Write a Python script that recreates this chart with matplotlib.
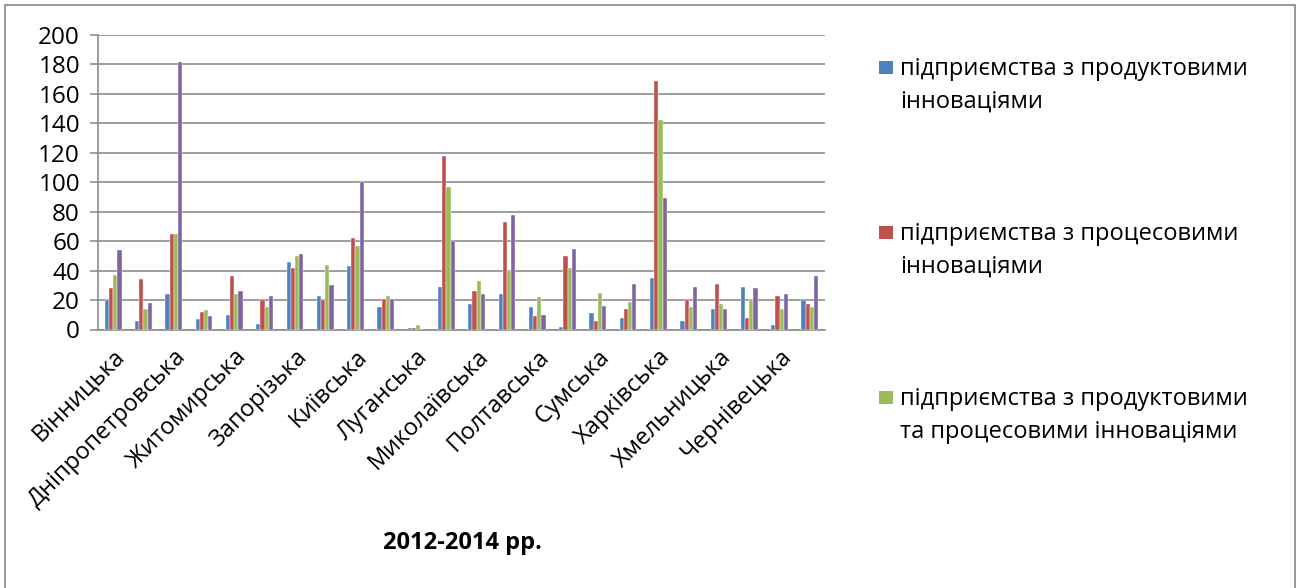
# Інноваційні підприємства за регіонами, 2012-2014 рр.

import numpy as np
import matplotlib
matplotlib.use('Agg')
import matplotlib.pyplot as plt
from matplotlib.patches import Rectangle

plt.rcParams['font.family'] = ['Open Sans', 'DejaVu Sans']

# Дані
regions = ['Вінницька', 'Волинська', 'Дніпропетровська', 'Донецька', 'Житомирська',
           'Закарпатська', 'Запорізька', 'Івано-Франківська', 'Київська', 'Кіровоградська',
           'Луганська', 'Львівська', 'Миколаївська', 'Одеська', 'Полтавська', 'Рівненська',
           'Сумська', 'Тернопільська', 'Харківська', 'Херсонська', 'Хмельницька',
           'Черкаська', 'Чернівецька', 'Чернігівська']
product = [20, 6, 24, 7, 10, 4, 46, 23, 43, 15, 1, 29, 17, 24, 15, 2, 11, 8, 35, 6, 14, 29, 3, 20]
process = [28, 34, 65, 12, 36, 20, 42, 20, 62, 21, 1, 118, 26, 73, 9, 50, 6, 14, 169, 20, 31, 8, 23, 17]
both = [37, 14, 65, 13, 24, 15, 50, 44, 57, 23, 3, 97, 33, 40, 22, 42, 25, 19, 142, 15, 17, 20, 14, 15]
other = [54, 18, 182, 9, 26, 23, 51, 30, 100, 21, 0, 60, 24, 78, 10, 55, 16, 31, 89, 29, 14, 28, 24, 36]

series = [product, process, both, other]
colors = ['#4F81BD', '#C0504D', '#9BBB59', '#8064A2']
labels = [['підприємства з продуктовими', 'інноваціями'],
          ['підприємства з процесовими', 'інноваціями'],
          ['підприємства з продуктовими', 'та процесовими інноваціями']]

W, H = 1302, 588
fig = plt.figure(figsize=(W / 100, H / 100), dpi=100)
ax = fig.add_axes([98/W, 1-329.5/H, 727/W, 294.5/H])

x = np.arange(len(regions))
w = 0.138
for i, vals in enumerate(series):
    ax.bar(x + (i - 1.5) * w, vals, w, color=colors[i], edgecolor='white', linewidth=0.3, zorder=3)

# Осі та сітка
ax.set_xlim(-0.5, len(regions) - 0.5)
ax.set_ylim(0, 200)
ax.set_yticks(range(0, 201, 20))
ax.yaxis.grid(True, color='#8c8c8c', linewidth=1.2, zorder=0)
for s in ['top', 'right']:
    ax.spines[s].set_visible(False)
for s in ['left', 'bottom']:
    ax.spines[s].set_color('#8c8c8c')
    ax.spines[s].set_linewidth(1.2)
ax.tick_params(axis='y', length=6, width=1.2, color='#8c8c8c', labelsize=17.5, pad=7)
ax.tick_params(axis='x', length=0, labelsize=17, pad=11)

ax.set_xticks(x[::2])
ax.set_xticklabels(regions[::2], rotation=45, ha='right', rotation_mode='anchor')

fig.text(462/W, 1-543/H, '2012-2014 рр.', fontsize=17, fontweight='bold', ha='center', va='center')

# Легенда (маркер на рівні першого рядка, як в Excel)
for k, (line1, line2) in enumerate(labels):
    base = 75 + k * 165
    fig.patches.append(Rectangle((879/W, 1-(base-1)/H), 14/W, 13/H, transform=fig.transFigure,
                                 facecolor=colors[k], edgecolor='none'))
    fig.text(900/W, 1-base/H, line1, fontsize=17, va='baseline', ha='left')
    fig.text(900/W, 1-(base+33)/H, line2, fontsize=17, va='baseline', ha='left')

# Рамка
fig.patches.append(Rectangle((5/W, -0.05), 1290/W, 1.05 - 5/H, transform=fig.transFigure,
                             fill=False, edgecolor='#868686', linewidth=1.2))

plt.savefig('out.png', dpi=100)
